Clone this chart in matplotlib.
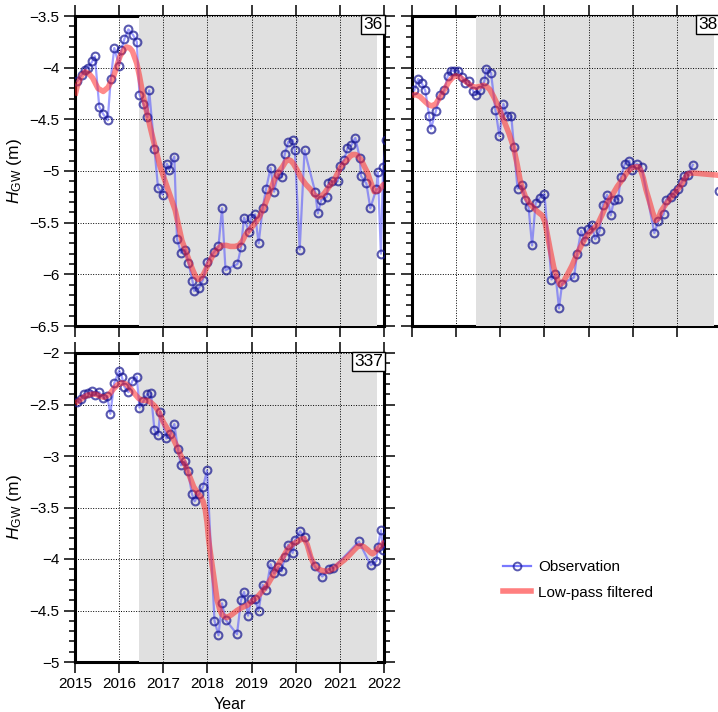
import matplotlib
matplotlib.use('Agg')
import matplotlib.pyplot as plt
from matplotlib.lines import Line2D
from matplotlib.ticker import MultipleLocator, FuncFormatter
import numpy as np

plt.rcParams['font.family'] = ['Liberation Sans', 'DejaVu Sans']
plt.rcParams['mathtext.fontset'] = 'custom'
plt.rcParams['mathtext.rm'] = 'Liberation Sans'
plt.rcParams['mathtext.it'] = 'Liberation Sans:italic'
plt.rcParams['font.size'] = 11

# well 36: observations and low-pass filtered series
t36 = [2015.05, 2015.15, 2015.23, 2015.30, 2015.39, 2015.45, 2015.55, 2015.64, 2015.74, 2015.81,
       2015.89, 2016.00, 2016.05, 2016.12, 2016.21, 2016.31, 2016.40, 2016.46, 2016.55, 2016.64,
       2016.68, 2016.80, 2016.88, 2016.99, 2017.08, 2017.14, 2017.25, 2017.31, 2017.40, 2017.50,
       2017.57, 2017.66, 2017.70, 2017.81, 2017.90, 2017.99, 2018.16, 2018.25, 2018.33, 2018.41,
       2018.68, 2018.76, 2018.83, 2018.94, 2018.99, 2019.08, 2019.16, 2019.25, 2019.33, 2019.43,
       2019.51, 2019.60, 2019.68, 2019.75, 2019.83, 2019.93, 2019.98, 2020.09, 2020.20, 2020.44,
       2020.50, 2020.58, 2020.70, 2020.74, 2020.83, 2020.95, 2021.01, 2021.10, 2021.17, 2021.26,
       2021.35, 2021.45, 2021.48, 2021.60, 2021.69, 2021.83, 2021.86, 2021.93, 2021.98, 2022.05]
h36 = [-4.13, -4.07, -4.02, -4.00, -3.94, -3.89, -4.38, -4.45, -4.51, -4.11,
       -3.81, -3.98, -3.83, -3.72, -3.63, -3.68, -3.75, -4.26, -4.35, -4.48,
       -4.22, -4.79, -5.16, -5.23, -4.93, -4.99, -4.86, -5.66, -5.79, -5.76,
       -5.89, -6.06, -6.16, -6.13, -6.05, -5.88, -5.78, -5.73, -5.36, -5.96,
       -5.90, -5.74, -5.45, -5.59, -5.45, -5.42, -5.70, -5.36, -5.17, -4.97,
       -5.20, -5.03, -5.06, -4.84, -4.72, -4.70, -4.80, -5.76, -4.80, -5.20,
       -5.41, -5.28, -5.25, -5.12, -5.10, -5.10, -4.95, -4.89, -4.78, -4.75,
       -4.68, -4.87, -5.05, -5.12, -5.36, -5.17, -5.01, -5.80, -4.96, -4.70]
lp36_t = [2015.00, 2015.05, 2015.10, 2015.16, 2015.23, 2015.32, 2015.40, 2015.52, 2015.64, 2015.75,
          2015.87, 2015.95, 2016.02, 2016.10, 2016.17, 2016.24, 2016.30, 2016.40, 2016.46, 2016.52,
          2016.61, 2016.70, 2016.82, 2016.93, 2017.01, 2017.14, 2017.27, 2017.42, 2017.58, 2017.66,
          2017.73, 2017.79, 2017.84, 2017.91, 2017.99, 2018.14, 2018.24, 2018.33, 2018.43, 2018.52,
          2018.62, 2018.71, 2018.79, 2018.86, 2019.05, 2019.17, 2019.28, 2019.40, 2019.51, 2019.61,
          2019.70, 2019.77, 2019.83, 2019.89, 2019.95, 2020.03, 2020.11, 2020.23, 2020.34, 2020.42,
          2020.49, 2020.56, 2020.64, 2020.76, 2020.87, 2020.95, 2021.02, 2021.10, 2021.17, 2021.23,
          2021.29, 2021.35, 2021.40, 2021.48, 2021.56, 2021.63, 2021.70, 2021.78, 2021.88, 2021.97,
          2022.02]
lp36_h = [-4.27, -4.18, -4.12, -4.07, -4.04, -4.06, -4.10, -4.20, -4.23, -4.19,
          -4.09, -3.98, -3.89, -3.83, -3.80, -3.81, -3.84, -3.96, -4.08, -4.22,
          -4.40, -4.57, -4.78, -4.96, -5.06, -5.22, -5.38, -5.67, -5.86, -5.95,
          -6.02, -6.05, -6.04, -6.00, -5.93, -5.80, -5.75, -5.72, -5.72, -5.73,
          -5.73, -5.72, -5.68, -5.62, -5.52, -5.45, -5.35, -5.22, -5.09, -5.01,
          -4.96, -4.91, -4.89, -4.90, -4.93, -4.99, -5.06, -5.13, -5.18, -5.23,
          -5.25, -5.25, -5.22, -5.15, -5.09, -5.02, -4.96, -4.92, -4.89, -4.86,
          -4.84, -4.84, -4.85, -4.89, -4.96, -5.02, -5.11, -5.20, -5.19, -5.14,
          -5.12]

# well 38
t38 = [2015.05, 2015.14, 2015.22, 2015.30, 2015.39, 2015.43, 2015.54, 2015.64, 2015.73, 2015.81,
       2015.88, 2015.96, 2016.05, 2016.13, 2016.21, 2016.30, 2016.39, 2016.46, 2016.55, 2016.64,
       2016.68, 2016.79, 2016.89, 2016.98, 2017.07, 2017.15, 2017.25, 2017.31, 2017.39, 2017.49,
       2017.57, 2017.64, 2017.72, 2017.80, 2017.89, 2018.00, 2018.16, 2018.25, 2018.33, 2018.40,
       2018.67, 2018.74, 2018.83, 2018.91, 2018.99, 2019.07, 2019.15, 2019.25, 2019.32, 2019.42,
       2019.50, 2019.58, 2019.67, 2019.73, 2019.82, 2019.92, 2019.98, 2020.09, 2020.20, 2020.49,
       2020.58, 2020.70, 2020.75, 2020.86, 2020.94, 2021.03, 2021.11, 2021.17, 2021.26, 2021.36,
       2021.60, 2021.96]
h38 = [-4.22, -4.11, -4.15, -4.22, -4.47, -4.59, -4.42, -4.26, -4.22, -4.08,
       -4.03, -4.03, -4.03, -4.09, -4.15, -4.13, -4.23, -4.26, -4.22, -4.13,
       -4.01, -4.05, -4.41, -4.66, -4.35, -4.47, -4.47, -4.77, -5.17, -5.14,
       -5.28, -5.35, -5.72, -5.31, -5.26, -5.22, -6.05, -6.00, -6.33, -6.09,
       -6.03, -5.80, -5.58, -5.68, -5.56, -5.52, -5.66, -5.58, -5.33, -5.23,
       -5.43, -5.28, -5.27, -5.06, -4.93, -4.90, -4.99, -4.93, -4.96, -5.60,
       -5.48, -5.42, -5.28, -5.25, -5.21, -5.17, -5.11, -5.05, -5.04, -4.94,
       np.nan, -5.19]
lp38_t = [2015.00, 2015.08, 2015.18, 2015.30, 2015.38, 2015.45, 2015.54, 2015.64, 2015.74, 2015.83,
          2015.91, 2015.98, 2016.08, 2016.17, 2016.27, 2016.36, 2016.45, 2016.55, 2016.62, 2016.68,
          2016.76, 2016.85, 2016.96, 2017.08, 2017.20, 2017.30, 2017.38, 2017.45, 2017.51, 2017.57,
          2017.66, 2017.76, 2017.86, 2017.95, 2018.01, 2018.06, 2018.13, 2018.21, 2018.28, 2018.35,
          2018.42, 2018.51, 2018.62, 2018.74, 2018.86, 2018.97, 2019.08, 2019.20, 2019.31, 2019.42,
          2019.54, 2019.65, 2019.77, 2019.88, 2019.98, 2020.07, 2020.13, 2020.18, 2020.24, 2020.30,
          2020.37, 2020.45, 2020.52, 2020.58, 2020.64, 2020.75, 2020.86, 2020.98, 2021.09, 2021.17,
          2021.24, 2021.32, 2021.39, 2021.92, 2022.05]
lp38_h = [-4.27, -4.26, -4.28, -4.33, -4.36, -4.37, -4.35, -4.28, -4.21, -4.14,
          -4.10, -4.08, -4.09, -4.12, -4.15, -4.18, -4.19, -4.18, -4.17, -4.18,
          -4.21, -4.28, -4.38, -4.51, -4.64, -4.77, -4.93, -5.09, -5.18, -5.25,
          -5.31, -5.36, -5.40, -5.43, -5.49, -5.60, -5.76, -5.93, -6.03, -6.10,
          -6.08, -6.01, -5.92, -5.80, -5.70, -5.62, -5.57, -5.52, -5.42, -5.31,
          -5.23, -5.15, -5.08, -5.01, -4.97, -4.96, -4.96, -4.99, -5.07, -5.18,
          -5.28, -5.40, -5.48, -5.46, -5.39, -5.32, -5.26, -5.20, -5.14, -5.08,
          -5.03, -5.02, -5.02, -5.04, -5.05]

# well 337
t337 = [2015.05, 2015.13, 2015.20, 2015.30, 2015.39, 2015.45, 2015.55, 2015.64, 2015.73, 2015.80,
        2015.89, 2016.00, 2016.06, 2016.12, 2016.21, 2016.30, 2016.40, 2016.46, 2016.55, 2016.64,
        2016.72, 2016.80, 2016.88, 2016.93, 2017.07, 2017.16, 2017.25, 2017.33, 2017.40, 2017.50,
        2017.56, 2017.65, 2017.71, 2017.81, 2017.90, 2017.99, 2018.16, 2018.25, 2018.33, 2018.41,
        2018.67, 2018.76, 2018.83, 2018.92, 2018.99, 2019.07, 2019.16, 2019.25, 2019.33, 2019.43,
        2019.51, 2019.60, 2019.68, 2019.75, 2019.83, 2019.93, 2019.98, 2020.10, 2020.20, 2020.43,
        2020.60, 2020.75, 2020.85, 2021.43, 2021.70, 2021.83, 2021.86, 2021.93, 2021.98, 2022.05]
h337 = [-2.48, -2.45, -2.40, -2.39, -2.37, -2.41, -2.38, -2.44, -2.42, -2.59,
        -2.29, -2.17, -2.23, -2.33, -2.38, -2.27, -2.23, -2.53, -2.47, -2.40,
        -2.39, -2.75, -2.80, -2.57, -2.83, -2.79, -2.69, -2.93, -3.09, -3.05,
        -3.15, -3.37, -3.44, -3.37, -3.30, -3.14, -4.60, -4.74, -4.43, -4.59,
        -4.73, -4.40, -4.32, -4.55, -4.39, -4.39, -4.50, -4.25, -4.30, -4.05,
        -4.14, -4.08, -4.12, -3.98, -3.86, -3.94, -3.82, -3.73, -3.79, -4.07,
        -4.17, -4.10, -4.09, -3.83, -4.06, -4.02, -3.88, -3.72, -3.91, -3.85]
lp337_t = [2015.00, 2015.10, 2015.19, 2015.28, 2015.38, 2015.47, 2015.57, 2015.65, 2015.72, 2015.80,
           2015.87, 2015.96, 2016.06, 2016.15, 2016.25, 2016.34, 2016.44, 2016.53, 2016.63, 2016.72,
           2016.82, 2016.91, 2017.00, 2017.10, 2017.20, 2017.30, 2017.39, 2017.49, 2017.58, 2017.69,
           2017.78, 2017.84, 2017.90, 2017.95, 2017.99, 2018.03, 2018.07, 2018.11, 2018.16, 2018.22,
           2018.28, 2018.33, 2018.39, 2018.44, 2018.55, 2018.67, 2018.79, 2018.90, 2019.01, 2019.13,
           2019.25, 2019.36, 2019.47, 2019.58, 2019.70, 2019.81, 2019.92, 2020.04, 2020.12, 2020.19,
           2020.26, 2020.34, 2020.41, 2020.49, 2020.58, 2020.68, 2020.78, 2020.87, 2020.98, 2021.10,
           2021.22, 2021.33, 2021.40, 2021.46, 2021.54, 2021.63, 2021.70, 2021.74, 2021.80, 2021.86,
           2021.94, 2022.02]
lp337_h = [-2.49, -2.46, -2.43, -2.41, -2.40, -2.40, -2.42, -2.43, -2.42, -2.39,
           -2.35, -2.31, -2.29, -2.30, -2.34, -2.39, -2.44, -2.46, -2.46, -2.48,
           -2.52, -2.58, -2.67, -2.74, -2.81, -2.90, -2.99, -3.08, -3.18, -3.30,
           -3.36, -3.39, -3.44, -3.52, -3.64, -3.82, -3.95, -4.07, -4.22, -4.40,
           -4.49, -4.54, -4.56, -4.57, -4.54, -4.50, -4.47, -4.45, -4.41, -4.37,
           -4.31, -4.25, -4.17, -4.07, -3.99, -3.91, -3.86, -3.83, -3.81, -3.80,
           -3.86, -3.98, -4.05, -4.09, -4.11, -4.12, -4.11, -4.09, -4.05, -4.01,
           -3.96, -3.91, -3.88, -3.87, -3.88, -3.91, -3.94, -3.95, -3.93, -3.90,
           -3.87, -3.83]

span = (2016.45, 2021.85)

W, H = 718, 712
fig = plt.figure(figsize=(W / 100, H / 100), dpi=100)


def px_axes(x0, y0, x1, y1):
    return fig.add_axes([x0 / W, 1 - y1 / H, (x1 - x0) / W, (y1 - y0) / H])


def minus(v, p):
    return f'{v:g}'.replace('-', '\u2212')


def panel(ax, t, h, lt, lh, ylim, name, xlab, ylab, name_x=0.996):
    ax.set_xlim(2015, 2022)
    ax.set_ylim(*ylim)
    for s in ax.spines.values():
        s.set_linewidth(2.2)
        s.set_zorder(2)
    ax.axvspan(*span, color='#e0e0e0', lw=0, zorder=2.2)
    ax.set_axisbelow(False)
    ax.xaxis.set_major_locator(MultipleLocator(1))
    ax.yaxis.set_major_locator(MultipleLocator(0.5))
    ax.yaxis.set_minor_locator(MultipleLocator(0.1))
    ax.yaxis.set_major_formatter(FuncFormatter(minus))
    ax.tick_params(which='both', direction='out', top=True, right=True, width=1.1,
                   labelbottom=xlab, labelleft=ylab, pad=3)
    ax.tick_params(which='major', length=8)
    ax.tick_params(which='minor', length=4)
    ax.grid(True, which='major', color='k', lw=0.7, ls=(0, (1, 1.6)))

    ax.plot(t, h, '-', color='#4040ff', alpha=0.5, lw=1.6, zorder=3)
    ax.plot(t, h, 'o', mfc='none', mec='#141490', mew=1.5, ms=5.6, alpha=0.7, zorder=3.1)
    ax.plot(lt, lh, '-', color='#ff2a2a', alpha=0.55, lw=4, solid_capstyle='butt',
            solid_joinstyle='round', zorder=3.2)

    ax.text(name_x, 0.996, name, transform=ax.transAxes, ha='right', va='top', fontsize=12.5,
            bbox=dict(boxstyle='square,pad=0.12', fc='white', ec='k', lw=1), zorder=5)
    if ylab:
        ax.set_ylabel(r'$H_{\rm GW}$ (m)', fontsize=12.5, labelpad=4)
    if xlab:
        ax.set_xlabel('Year', fontsize=11.5, labelpad=4)


ax1 = px_axes(75, 16, 384, 326)
panel(ax1, t36, h36, lp36_t, lp36_h, (-6.5, -3.5), '36', False, True)

ax2 = px_axes(412, 16, 721, 326)
panel(ax2, t38, h38, lp38_t, lp38_h, (-6.5, -3.5), '38', False, False, name_x=0.988)

ax3 = px_axes(75, 353, 384, 662)
panel(ax3, t337, h337, lp337_t, lp337_h, (-5, -2), '337', True, True)

handles = [Line2D([], [], color='#4040ff', alpha=0.7, lw=1.6, marker='o', mfc='none',
                  mec='#141490', mew=1.4, ms=5.6),
           Line2D([], [], color='#ff2a2a', alpha=0.6, lw=4)]
fig.legend(handles, ['Observation', 'Low-pass filtered'], loc='center left', numpoints=1,
           bbox_to_anchor=(503 / W, 1 - 580 / H), frameon=False, handlelength=1.8,
           handletextpad=0.5, labelspacing=0.75, borderpad=0, borderaxespad=0, fontsize=11)

fig.savefig('out.png', dpi=100)
